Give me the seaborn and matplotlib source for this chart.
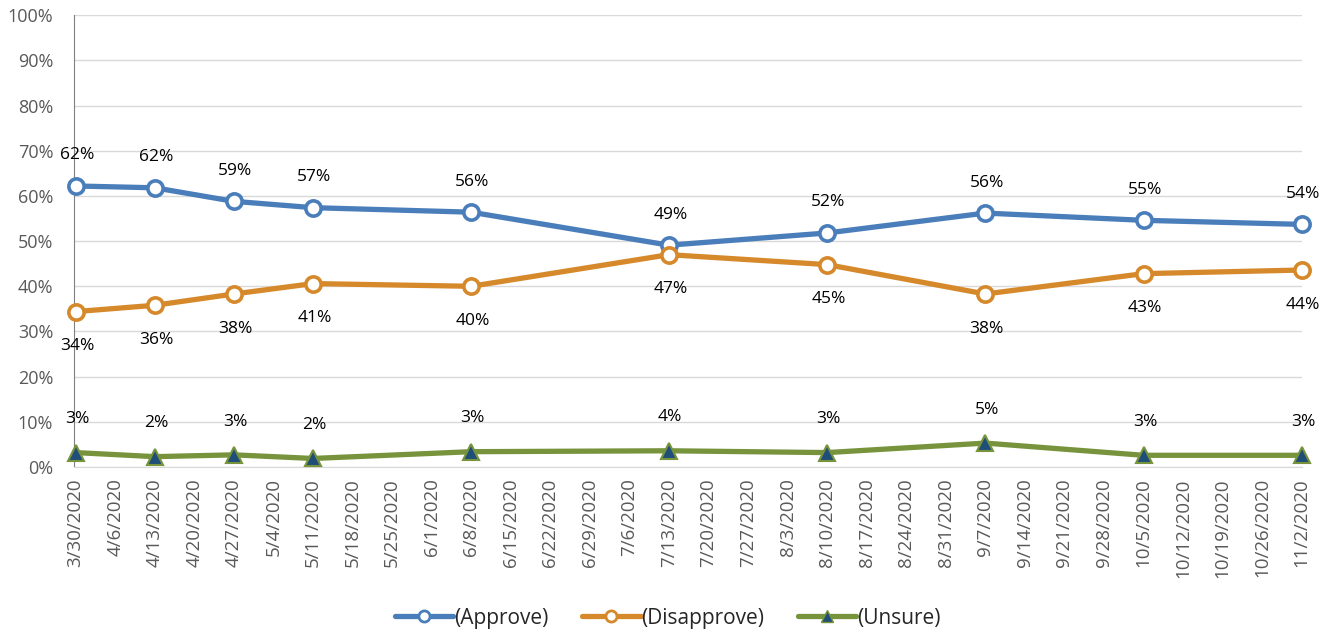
#Importing the modules that will be used
from matplotlib import pyplot as plt
from matplotlib.lines import Line2D
import matplotlib.dates as mdates
import pandas as pd
import seaborn as sns

#Poll dates and the three series (percent)
dates = ["2020-03-30", "2020-04-13", "2020-04-27", "2020-05-11", "2020-06-08",
         "2020-07-13", "2020-08-10", "2020-09-07", "2020-10-05", "2020-11-02"]
approve = [62.2, 61.8, 58.8, 57.4, 56.4, 49.1, 51.8, 56.2, 54.6, 53.7]
disapprove = [34.4, 35.8, 38.3, 40.6, 40.0, 47.0, 44.8, 38.3, 42.8, 43.6]
unsure = [3.2, 2.3, 2.7, 1.9, 3.4, 3.6, 3.2, 5.3, 2.6, 2.6]
series_names = ["(Approve)", "(Disapprove)", "(Unsure)"]

#Long form dataframe for seaborn
df = pd.DataFrame({"date": pd.to_datetime(dates * 3),
                   "value": approve + disapprove + unsure,
                   "series": [series_names[0]] * 10 + [series_names[1]] * 10 + [series_names[2]] * 10})

sns.set_style("white")
plt.rcParams["font.family"] = ["Open Sans", "DejaVu Sans"]

colors = {"(Approve)": "#4A7EBB", "(Disapprove)": "#D6892A", "(Unsure)": "#77933C"}

fig = plt.figure(figsize=(13.28, 6.32), dpi=100)
ax = fig.add_axes([0.0557, 0.261, 0.9245, 0.715])

sns.lineplot(data=df, x="date", y="value", hue="series", palette=colors, linewidth=3.8,
             legend=False, ax=ax)

#Markers drawn on top of the lines
for name in series_names:
    sub = df[df["series"] == name]
    if name == "(Unsure)":
        ax.plot(sub["date"], sub["value"], linestyle="none", marker="^", markersize=12,
                markerfacecolor="#1F4E79", markeredgecolor=colors[name], markeredgewidth=1.5,
                zorder=5, clip_on=False)
    else:
        ax.plot(sub["date"], sub["value"], linestyle="none", marker="o", markersize=11,
                markerfacecolor="white", markeredgecolor=colors[name], markeredgewidth=2.6,
                zorder=5, clip_on=False)

#Data labels
offsets = {"(Approve)": 22, "(Disapprove)": -25, "(Unsure)": 24}
for name in series_names:
    sub = df[df["series"] == name]
    for d, v in zip(sub["date"], sub["value"]):
        ax.annotate(f"{v:.0f}%", (d, v), textcoords="offset points", xytext=(1, offsets[name]),
                    ha="center", va="center", fontsize=12.5, color="#000000")

#Axes formatting
ticks = pd.date_range("2020-03-30", "2020-11-02", freq="7D")
ax.set_xlim(mdates.date2num(ticks[0]) - 0.3, mdates.date2num(ticks[-1]))
ax.set_xticks(mdates.date2num(ticks))
ax.set_xticklabels([f"{t.month}/{t.day}/{t.year}" for t in ticks], rotation=90, fontsize=13.5, color="#595959")
ax.set_ylim(0, 100)
ax.set_yticks(range(0, 101, 10))
ax.set_yticklabels([f"{v}%" for v in range(0, 101, 10)], fontsize=13, color="#595959")
ax.yaxis.grid(True, color="#D9D9D9", linewidth=1)
ax.set_xlabel("")
ax.set_ylabel("")
ax.tick_params(axis="x", direction="in", length=6, color="#D9D9D9", pad=8)
ax.tick_params(axis="y", length=0, pad=15)
for s in ["top", "right"]:
    ax.spines[s].set_visible(False)
ax.spines["left"].set_color("#808080")
ax.spines["bottom"].set_color("#D9D9D9")

#Legend at the bottom
handles = [Line2D([], [], color=colors["(Approve)"], linewidth=3.8, marker="o", markersize=8,
                  markerfacecolor="white", markeredgewidth=2),
           Line2D([], [], color=colors["(Disapprove)"], linewidth=3.8, marker="o", markersize=8,
                  markerfacecolor="white", markeredgewidth=2),
           Line2D([], [], color=colors["(Unsure)"], linewidth=3.8, marker="^", markersize=8,
                  markerfacecolor="#1F4E79", markeredgewidth=1)]
fig.legend(handles, series_names, loc="center", bbox_to_anchor=(0.503, 0.022), ncol=3, frameon=False,
           fontsize=15, handlelength=2.8, handletextpad=0.05, columnspacing=1.6)

fig.savefig("out.png", dpi=100)
